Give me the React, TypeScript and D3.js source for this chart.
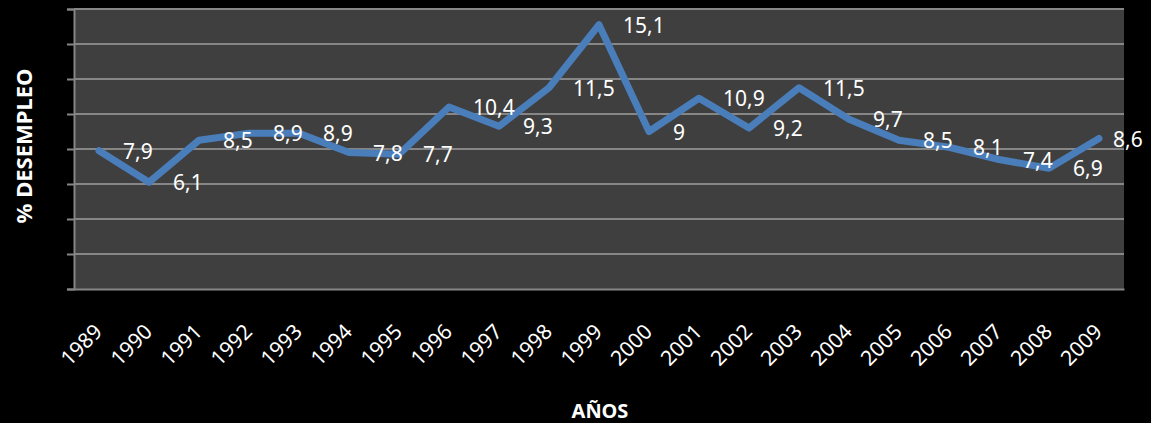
import { useEffect, useRef } from 'react';
import * as d3 from 'd3';

const WIDTH = 1151;
const HEIGHT = 423;
const MARGIN = { top: 9, right: 27, bottom: 134, left: 74 };

const years = [
  '1989', '1990', '1991', '1992', '1993', '1994', '1995', '1996', '1997', '1998', '1999',
  '2000', '2001', '2002', '2003', '2004', '2005', '2006', '2007', '2008', '2009',
];
const desempleo = [
  7.9, 6.1, 8.5, 8.9, 8.9, 7.8, 7.7, 10.4, 9.3, 11.5, 15.1,
  9, 10.9, 9.2, 11.5, 9.7, 8.5, 8.1, 7.4, 6.9, 8.6,
];
const yTicks = [0, 2, 4, 6, 8, 10, 12, 14, 16];

const FONT = '"Noto Sans", "Open Sans", sans-serif';

export default function App() {
  const axesRef = useRef<SVGGElement>(null);

  const boundsWidth = WIDTH - MARGIN.left - MARGIN.right;
  const boundsHeight = HEIGHT - MARGIN.top - MARGIN.bottom;

  const xScale = d3.scalePoint<string>().domain(years).range([0, boundsWidth]).padding(0.5);
  const yScale = d3.scaleLinear().domain([0, 16]).range([boundsHeight, 0]);

  const data = years.map((y, i) => ({ year: y, value: desempleo[i] }));

  const linePath = d3
    .line<{ year: string; value: number }>()
    .x((d) => xScale(d.year) ?? 0)
    .y((d) => yScale(d.value))(data);

  useEffect(() => {
    const g = d3.select(axesRef.current);
    g.selectAll('*').remove();

    // horizontal grid + y tick marks, no labels
    const yAxis = d3.axisLeft(yScale).tickValues(yTicks).tickSize(7).tickFormat(() => '');
    g.append('g')
      .call(yAxis)
      .call((s) => s.select('.domain').attr('stroke', '#868686').attr('stroke-width', 2))
      .call((s) => s.selectAll('.tick line').attr('stroke', '#868686').attr('stroke-width', 2));

    g.append('g')
      .selectAll('line')
      .data(yTicks.slice(1))
      .join('line')
      .attr('x1', 0)
      .attr('x2', boundsWidth)
      .attr('y1', (d) => yScale(d))
      .attr('y2', (d) => yScale(d))
      .attr('stroke', '#868686')
      .attr('stroke-width', 2);

    const xAxis = d3.axisBottom(xScale).tickSize(0).tickSizeOuter(0);
    g.append('g')
      .attr('transform', `translate(0,${boundsHeight})`)
      .call(xAxis)
      .call((s) => s.select('.domain').attr('stroke', '#868686').attr('stroke-width', 2))
      .call((s) =>
        s
          .selectAll('.tick text')
          .attr('fill', '#ffffff')
          .attr('font-size', 21)
          .attr('font-family', FONT)
          .attr('text-anchor', 'end')
          .attr('dy', 0)
          .attr('y', 0)
          .attr('transform', 'translate(4,44) rotate(-45)')
      );
  }, []);

  // labels sit right of the point, pushed back in at the right edge
  const labelX = (year: string) =>
    Math.min((xScale(year) ?? 0) + 24, WIDTH - MARGIN.left - 38);

  return (
    <div style={{ position: 'absolute', left: 0, top: 0 }}>
      <svg width={WIDTH} height={HEIGHT} style={{ display: 'block', background: '#000' }}>
        <rect width={WIDTH} height={HEIGHT} fill="#000" />
        <g transform={`translate(${MARGIN.left},${MARGIN.top})`}>
          <rect width={boundsWidth} height={boundsHeight} fill="#3f3f3f" />
          <g ref={axesRef} />
          <path
            d={linePath ?? ''}
            fill="none"
            stroke="#4a7ebb"
            strokeWidth={7}
            strokeLinejoin="round"
            strokeLinecap="round"
          />
          {data.map((d) => (
            <text
              key={d.year}
              x={labelX(d.year)}
              y={yScale(d.value) + 8}
              fill="#ffffff"
              fontSize={21}
              fontFamily={FONT}
            >
              {String(d.value).replace('.', ',')}
            </text>
          ))}
        </g>
        <text
          transform="translate(32,146) rotate(-90)"
          textAnchor="middle"
          fill="#ffffff"
          fontSize={22}
          fontWeight="bold"
          fontFamily={FONT}
        >
          % DESEMPLEO
        </text>
        <text
          x={600}
          y={418}
          textAnchor="middle"
          fill="#ffffff"
          fontSize={20}
          fontWeight="bold"
          fontFamily={FONT}
        >
          AÑOS
        </text>
      </svg>
    </div>
  );
}
